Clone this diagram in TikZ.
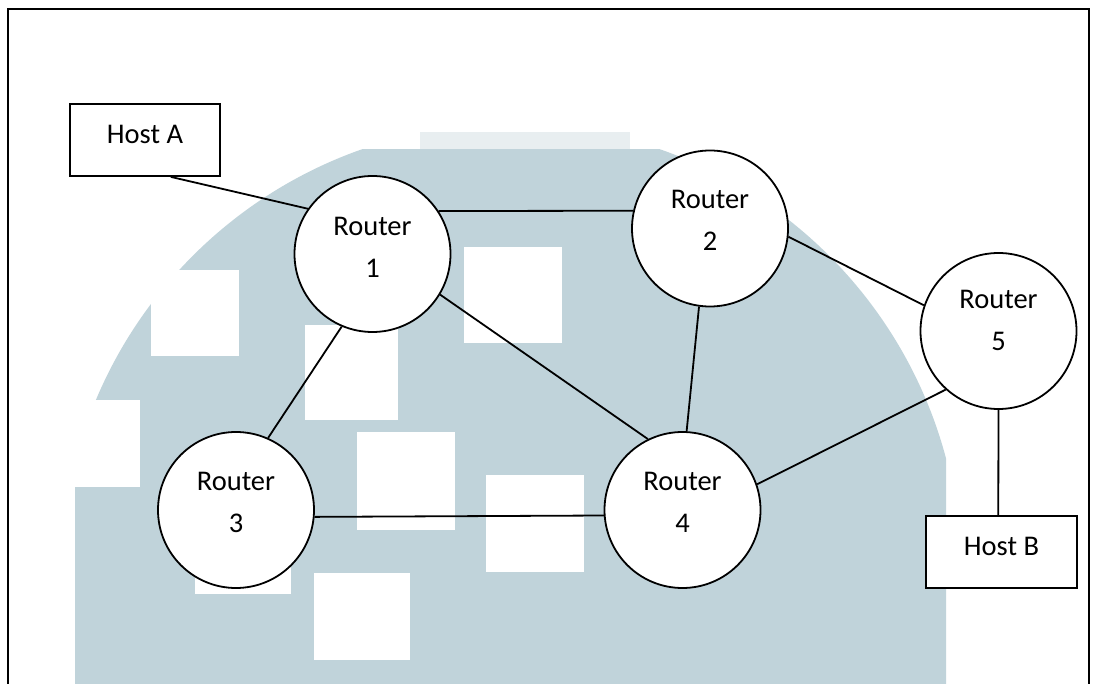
\documentclass[tikz,border=0pt]{standalone}
\usepackage{fontspec}
\setmainfont{Carlito}
\definecolor{wm}{RGB}{192,211,218}
\definecolor{wmlight}{RGB}{232,238,240}
\tikzset{
  router/.style={circle, draw, fill=white, line width=1.8pt, minimum size=156pt, inner sep=0pt},
  hostbox/.style={rectangle, draw, fill=white, line width=1.8pt, minimum width=150pt, minimum height=72pt, inner sep=0pt},
  lbl/.style={align=center, inner sep=0pt, font=\fontsize{28.5}{42}\selectfont},
  link/.style={line width=1.8pt},
  hole/.style={fill=white}
}
\begin{document}
\begin{tikzpicture}[x=1pt,y=-1pt]
\useasboundingbox (0,0) rectangle (1093,684);
% watermark
\fill[wmlight] (420,132) rectangle (630,150);
\begin{scope}
  \clip (75,150) rectangle (946,684);
  \fill[wm] (511,574) circle[radius=450pt];
\end{scope}
\fill[hole] (8,400) rectangle (140,487);
\fill[hole] (151,270) rectangle (239,356);
\fill[hole] (305,325) rectangle (398,420);
\fill[hole] (464,247) rectangle (562,343);
\fill[hole] (357,432) rectangle (455,530);
\fill[hole] (486,475) rectangle (584,572);
\fill[hole] (314,573) rectangle (410,660);
\fill[hole] (195,500) rectangle (291,594);
% frame
\draw[line width=1.8pt] (8,684) -- (8,9) -- (1089,9) -- (1089,684);
% nodes
\node[hostbox] (ha) at (145,140) {};
\node[lbl] (hat) at (145,134) {Host A};
\node[hostbox, minimum width=151pt] (hb) at (1001.5,552) {};
\node[lbl] (hbt) at (1001.5,546) {Host B};
\node[router] (r1) at (372.5,254) {};
\node[lbl] (r1t) at (372.5,247) {Router\\1};
\node[router] (r2) at (710,228.5) {};
\node[lbl] (r2t) at (710,220) {Router\\2};
\node[router] (r3) at (236,510) {};
\node[lbl] (r3t) at (236,502.5) {Router\\3};
\node[router] (r4) at (682.5,510) {};
\node[lbl] (r4t) at (682.5,502.5) {Router\\4};
\node[router] (r5) at (998.5,331) {};
\node[lbl] (r5t) at (998.5,320) {Router\\5};
% links
\draw[link] (ha.-55) -- (r1.145);
\draw[link] (r1.33) -- (r2.167);
\draw[link] (r1.-31) -- (r4.116);
\draw[link] (r1.-113) -- (r3.66);
\draw[link] (r2.-98) -- (r4.87);
\draw[link] (r2.-6.5) -- (r5.161);
\draw[link] (r3.-5) -- (r4.184);
\draw[link] (r4.19) -- (r5.-132);
\draw[link] (r5.-90.5) -- (hb.95);
\end{tikzpicture}
\end{document}
